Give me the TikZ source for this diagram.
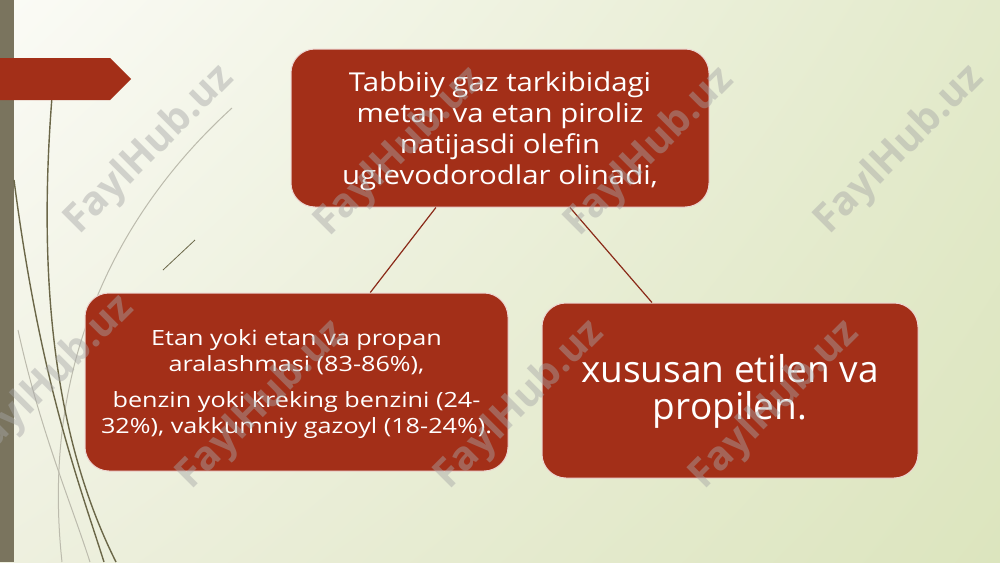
\documentclass[tikz,border=0pt]{standalone}
\usepackage{fontspec}
\setmainfont{Open Sans}
\newfontfamily\wideA[FakeStretch=1.13]{Open Sans}
\newfontfamily\wideB[FakeStretch=1.2]{Open Sans}
\usetikzlibrary{calc,shadings}
\definecolor{boxred}{HTML}{A32F18}
\definecolor{linered}{HTML}{8A2A18}
\definecolor{barcol}{HTML}{7A745E}
\definecolor{curvecol}{HTML}{6B6748}
\definecolor{bgA}{HTML}{FBFBF6}
\definecolor{bgB}{HTML}{E3EACB}
\definecolor{bgC}{HTML}{EEF0DF}
\definecolor{bgD}{HTML}{DCE5BE}
\tikzset{
  rbox/.style={draw=white!80!boxred, line width=1pt, fill=boxred, rounded corners=24pt,
    text=white, align=center, inner sep=0pt},
  conn/.style={draw=linered, line width=1.2pt},
  wmark/.style={rotate=45, text=gray!70, opacity=0.45, font=\bfseries\fontsize{40}{40}\selectfont},
  curve/.style={draw=curvecol, line width=1.4pt},
  lcurve/.style={draw=curvecol!45, line width=1pt}
}
\begin{document}
\begin{tikzpicture}[x=1pt,y=-1pt]
\useasboundingbox (0,0) rectangle (1000,562);
\shade[upper left=bgA, upper right=bgB, lower left=bgC, lower right=bgD] (0,0) rectangle (1000,562);
% left decorations
\fill[barcol] (0,0) rectangle (14,562);
\draw[lcurve] (232,108) .. controls (120,210) and (40,360) .. (62,562);
\draw[lcurve] (18,330) .. controls (40,430) and (70,500) .. (90,562);
\draw[curve] (52,97) .. controls (36,300) and (60,450) .. (116,562);
\draw[curve] (14,180) .. controls (40,380) and (78,480) .. (104,562);
\draw[curve, line width=0.8pt] (195,240) -- (163,270);
\fill[boxred] (0,58) -- (110,58) -- (131,79) -- (110,100) -- (0,100) -- cycle;
% boxes
\node[rbox, minimum width=418pt, minimum height=158pt] (top) at (500,128) {};
\node[text=white, align=center, font=\wideA\fontsize{26}{31}\selectfont] (toptext) at (500,131)
  {Tabbiiy gaz tarkibidagi\\metan va etan piroliz\\natijasdi olefin\\uglevodorodlar olinadi,};
\node[rbox, minimum width=423pt, minimum height=178pt] (left) at (296.5,382) {};
\node[text=white, align=center, font=\wideB\fontsize{21}{26}\selectfont] (lefttext) at (296.5,384)
  {Etan yoki etan va propan\\aralashmasi (83-86\%),\\[10pt]benzin yoki kreking benzini (24-\\32\%), vakkumniy gazoyl (18-24\%).};
\node[rbox, minimum width=376pt, minimum height=175pt] (right) at (730,390.5) {};
\node[text=white, align=center, font=\fontsize{37}{37}\selectfont] (righttext) at (730,391)
  {xususan etilen va\\propilen.};
\draw[conn] ($(top.south west)!0.347!(top.south east)$) -- ($(left.north west)!0.674!(left.north east)$);
\draw[conn] ($(top.south west)!0.667!(top.south east)$) -- ($(right.north west)!0.293!(right.north east)$);
% watermarks
\foreach \i/\x/\y in {1/150/150, 2/400/152, 3/650/152, 4/900/150, 5/50/380, 6/262/405, 7/520/405, 8/775/405}
  \node[wmark] (wm\i) at (\x,\y) {FaylHub.uz};
\end{tikzpicture}
\end{document}
